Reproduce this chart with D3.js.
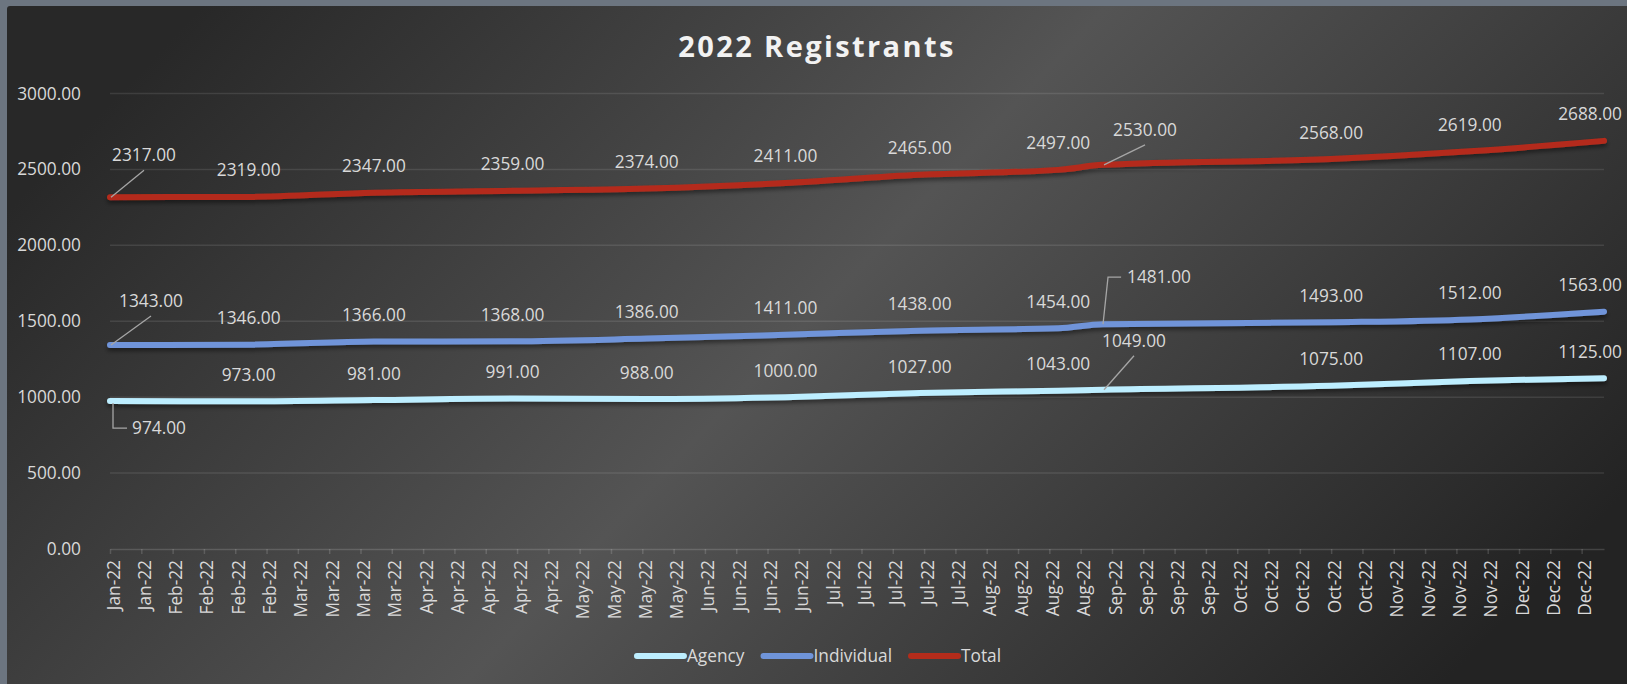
<!DOCTYPE html>
<html>
<head>
<meta charset="utf-8">
<script src="https://cdn.jsdelivr.net/npm/d3@7"></script>
<style>
body{margin:0;background:#6c7580;overflow:hidden;}
text{font-family:"Open Sans",sans-serif;fill:#d9d9d9;}
</style>
</head>
<body>
<svg id="chart" width="1627" height="684"></svg>
<script>
// data
const dates = ["2022-01-22","2022-02-22","2022-03-22","2022-04-22","2022-05-22","2022-06-22",
               "2022-07-22","2022-08-22","2022-09-01","2022-10-22","2022-11-22","2022-12-22"];
const agency = [974,973,981,991,988,1000,1027,1043,1049,1075,1107,1125];
const individual = [1343,1346,1366,1368,1386,1411,1438,1454,1481,1493,1512,1563];
const total = [2317,2319,2347,2359,2374,2411,2465,2497,2530,2568,2619,2688];
const seriesNames = ["Agency","Individual","Total"];
const yTicks = [0,500,1000,1500,2000,2500,3000];
const tickStepDays = 7;
const title = "2022 Registrants";

const colors = {Agency:"#bdeeff", Individual:"#6f94d9", Total:"#b42c1b"};
const fontSize = "17.3px";

// labels that were dragged away from the point in the original (offsets in px)
const labelMoves = {
  "Total-0":      {dx:34, dy:-42, leader:"diag"},
  "Total-8":      {dx:42, dy:-35, leader:"diag"},
  "Individual-0": {dx:41, dy:-44, leader:"diag"},
  "Individual-8": {dx:56, dy:-47, leader:"elbowUp"},
  "Agency-0":     {dx:49, dy:27,  leader:"elbowDown"},
  "Agency-8":     {dx:31, dy:-49, leader:"diag"}
};

const svg = d3.select("#chart"),
margin = {top:93.5,right:23,bottom:135,left:110},
width = +svg.attr("width") - margin.left - margin.right,
height = +svg.attr("height") - margin.top - margin.bottom;

const parse = d3.utcParse("%Y-%m-%d");
const series = seriesNames.map((name,i)=>({
  name,
  values: [agency,individual,total][i].map((v,j)=>({date:parse(dates[j]), value:v}))
}));

// background + gradient
const defs = svg.append("defs");
const grad = defs.append("linearGradient").attr("id","bg")
.attr("x1","0").attr("y1","0.3").attr("x2","1").attr("y2","0.7");
grad.append("stop").attr("offset","0%").attr("stop-color","#282828");
grad.append("stop").attr("offset","48%").attr("stop-color","#545454");
grad.append("stop").attr("offset","100%").attr("stop-color","#232323");

const shadow = defs.append("filter").attr("id","shadow")
.attr("x","-5%").attr("y","-50%").attr("width","110%").attr("height","200%");
shadow.append("feDropShadow").attr("dx",0).attr("dy",3).attr("stdDeviation",2)
.attr("flood-color","#000").attr("flood-opacity",0.45);

svg.append("rect").attr("x",7).attr("y",6).attr("width",1627).attr("height",684)
.attr("rx",3).attr("fill","url(#bg)");

svg.append("text")
.attr("x",817).attr("y",57)
.attr("text-anchor","middle")
.style("font-size","29px").style("font-weight","700")
.style("letter-spacing","2.4px").style("fill","#f2f2f2")
.text(title);

const g = svg.append("g")
.attr("transform",`translate(${margin.left},${margin.top})`);

const x = d3.scaleUtc()
.domain(d3.extent(series[0].values, d=>d.date))
.range([0,width]);
const y = d3.scaleLinear().domain([0,3000]).range([height,0]);

// gridlines
g.append("g").selectAll("line").data(yTicks.filter(d=>d>0)).join("line")
.attr("x1",0).attr("x2",width)
.attr("y1",d=>y(d)).attr("y2",d=>y(d))
.attr("stroke","#fff").attr("stroke-opacity",0.1).attr("stroke-width",1.5);

// y axis
const yAxis = g.append("g")
.call(d3.axisLeft(y).tickValues(yTicks).tickFormat(d3.format(".2f")).tickSize(0).tickPadding(29));
yAxis.select(".domain").remove();
yAxis.selectAll("text").style("font-size",fontSize).style("fill","#d9d9d9");

// x axis, weekly ticks
const xTicks = d3.utcDay.range(x.domain()[0], d3.utcDay.offset(x.domain()[1],1), tickStepDays);
const xAxis = g.append("g")
.attr("transform",`translate(0,${height})`)
.call(d3.axisBottom(x).tickValues(xTicks).tickFormat(d3.utcFormat("%b-%y")).tickSize(5).tickSizeOuter(0));
xAxis.select(".domain").attr("stroke","#fff").attr("stroke-opacity",0.15).attr("stroke-width",1.5);
xAxis.selectAll(".tick line").attr("stroke","#fff").attr("stroke-opacity",0.15).attr("stroke-width",1.5);
xAxis.selectAll("text")
.attr("transform","rotate(-90)")
.attr("text-anchor","end")
.attr("x",-11).attr("y",3).attr("dy","0.35em")
.style("font-size",fontSize).style("fill","#d9d9d9");

// lines
const line = d3.line()
.x(d=>x(d.date))
.y(d=>y(d.value))
.curve(d3.curveMonotoneX);

g.append("g").selectAll("path").data(series).join("path")
.attr("d",d=>line(d.values))
.attr("fill","none")
.attr("stroke",d=>colors[d.name])
.attr("stroke-width",6)
.attr("stroke-linecap","round")
.attr("stroke-linejoin","round")
.attr("filter","url(#shadow)");

// data labels
const labelG = g.append("g");
series.forEach(s=>{
  s.values.forEach((d,i)=>{
    const px = x(d.date), py = y(d.value);
    const mv = labelMoves[`${s.name}-${i}`];
    let cx = px, cy = py - 26.5;
    if(mv){ cx = px + mv.dx; cy = py + mv.dy; }
    const t = labelG.append("text")
    .attr("x",cx).attr("y",cy).attr("dy","0.35em")
    .attr("text-anchor","middle")
    .style("font-size",fontSize)
    .text(d3.format(".2f")(d.value));
    const w = t.node().getComputedTextLength();
    // keep labels inside the chart area
    const maxRight = 1622 - margin.left;
    if(cx + w/2 > maxRight){ cx = maxRight - w/2; t.attr("x",cx); }
    if(mv){
      let p;
      if(mv.leader==="diag") p = `M${px+1},${py}L${cx},${cy+15}`;
      else if(mv.leader==="elbowUp") p = `M${px},${py}L${px+5},${cy}L${cx-w/2-6},${cy}`;
      else p = `M${px+3},${py+2}L${px+3},${cy}L${cx-w/2-5},${cy}`;
      labelG.append("path").attr("d",p).attr("fill","none")
      .attr("stroke","#a6a6a6").attr("stroke-width",1.3);
    }
  });
});

// legend
const legend = svg.append("g");
let lx = 0;
seriesNames.forEach(name=>{
  const it = legend.append("g");
  it.append("line").attr("x1",0).attr("x2",47).attr("y1",0).attr("y2",0)
  .attr("stroke",colors[name]).attr("stroke-width",6).attr("stroke-linecap","round");
  const tx = it.append("text").attr("x",50).attr("dy","0.35em")
  .style("font-size",fontSize).text(name);
  const w = 50 + tx.node().getComputedTextLength();
  it.attr("transform",`translate(${lx},0)`);
  lx += w + 19;
});
const legendWidth = lx - 19;
legend.attr("transform",`translate(${819 - legendWidth/2},656)`);
</script>
</body>
</html>
